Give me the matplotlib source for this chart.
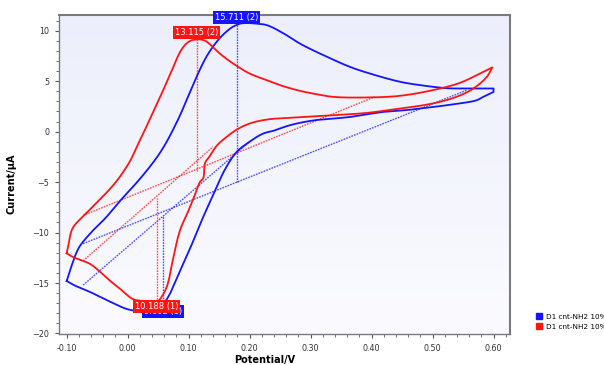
import numpy as np
import matplotlib
matplotlib.use("Agg")
import matplotlib.pyplot as plt
from matplotlib.ticker import MultipleLocator, FormatStrFormatter
from matplotlib.lines import Line2D
from matplotlib.colors import LinearSegmentedColormap

# ---------------- data ----------------
blue_E = [-0.100, -0.092, -0.080, -0.060, -0.037, -0.010, 0.017, 0.040, 0.053, 0.065,
          0.085, 0.100, 0.115, 0.130, 0.146, 0.160, 0.173, 0.185, 0.195, 0.210,
          0.228, 0.255, 0.283, 0.320, 0.365, 0.400, 0.447, 0.480, 0.523, 0.550, 0.600,
          0.600, 0.585, 0.572, 0.540, 0.501, 0.460, 0.419, 0.365, 0.304, 0.266, 0.240,
          0.222, 0.200, 0.179, 0.160, 0.143, 0.130, 0.118, 0.105, 0.091, 0.078, 0.069,
          0.058, 0.045, 0.023, 0.000, -0.020, -0.037, -0.065, -0.085, -0.100]
blue_I = [-14.8, -13.3, -11.5, -10.0, -8.6, -6.7, -4.9, -3.2, -2.1, -0.9,
          1.5, 3.6, 5.7, 7.5, 8.9, 9.8, 10.4, 10.7, 10.75, 10.7,
          10.55, 9.75, 8.7, 7.6, 6.4, 5.7, 4.93, 4.6, 4.3, 4.27, 4.27,
          3.93, 3.5, 3.1, 2.75, 2.44, 2.15, 1.95, 1.45, 1.1, 0.63, 0.1,
          -0.2, -1.0, -2.0, -3.7, -5.9, -7.6, -9.3, -11.2, -13.1, -14.9, -16.1,
          -17.1, -17.6, -17.8, -17.6, -17.1, -16.6, -15.8, -15.3, -14.8]

red_E = [-0.100, -0.097, -0.092, -0.086, -0.073, -0.055, -0.037, -0.018, -0.004, 0.005,
         0.012, 0.020, 0.028, 0.042, 0.056, 0.072, 0.088, 0.100, 0.113, 0.125,
         0.132, 0.146, 0.160, 0.179, 0.200, 0.228, 0.255, 0.283, 0.310, 0.337,
         0.392, 0.446, 0.500, 0.545, 0.578, 0.598,
         0.589, 0.567, 0.539, 0.500, 0.446, 0.392, 0.337, 0.283, 0.228, 0.200,
         0.179, 0.162, 0.146, 0.135, 0.127, 0.124, 0.1185, 0.110, 0.100, 0.0857,
         0.075, 0.064, 0.053, 0.0475, 0.030, 0.009, -0.010, -0.029, -0.045, -0.062,
         -0.089, -0.100]
red_I = [-12.05, -11.2, -9.8, -9.2, -8.4, -7.3, -6.2, -4.9, -3.7, -2.8,
         -1.9, -0.86, 0.13, 2.0, 3.8, 6.0, 8.1, 8.9, 9.14, 9.05,
         8.8, 8.0, 7.3, 6.5, 5.75, 5.1, 4.5, 4.03, 3.7, 3.44,
         3.38, 3.54, 4.1, 4.83, 5.76, 6.36,
         5.42, 4.27, 3.44, 2.78, 2.28, 1.85, 1.62, 1.42, 1.19, 0.8,
         0.2, -0.54, -1.4, -2.4, -3.1, -4.6, -5.0, -6.3, -7.8, -9.8,
         -12.45, -15.4, -16.6, -16.9, -16.8, -16.6, -15.7, -14.77, -13.9, -13.1,
         -12.45, -12.05]

# baselines: (E_start, I_start, E_end, I_end)
blue_base_anodic = [-0.073, -11.1, 0.556, 4.1]
blue_base_cathodic = [-0.073, -15.2, 0.200, -1.0]
red_base_anodic = [-0.073, -8.3, 0.405, 3.44]
red_base_cathodic = [-0.073, -12.8, 0.140, -1.5]

# peak markers: potential, current at curve, current at baseline, label
blue_peak_E = [0.179, 0.058]
blue_peak_top = [10.6, -17.7]
blue_peak_base = [-5.0, -8.4]
blue_peak_text = ["15.711 (2)", "9.602 (1)"]
red_peak_E = [0.113, 0.0475]
red_peak_top = [9.14, -16.9]
red_peak_base = [-3.9, -6.6]
red_peak_text = ["13.115 (2)", "10.188 (1)"]

series_names = ["D1 cnt-NH2 10%二", "D1 cnt-NH2 10%三"]

xticks = [-0.10, 0.00, 0.10, 0.20, 0.30, 0.40, 0.50, 0.60]
yticks = [-20, -15, -10, -5, 0, 5, 10]

BLUE = "#1414ff"
RED = "#ff1414"


def catmull(xs, ys, n=8, sx=610.0, sy=10.07):
    """Centripetal Catmull-Rom through the read points (drawing only)."""
    P = np.column_stack([np.asarray(xs) * sx, np.asarray(ys) * sy])
    out = [P[0]]
    for i in range(len(P) - 1):
        p0 = P[i - 1] if i > 0 else 2 * P[i] - P[i + 1]
        p1, p2 = P[i], P[i + 1]
        p3 = P[i + 2] if i + 2 < len(P) else 2 * P[i + 1] - P[i]
        def tj(ti, a, b):
            return ti + max(np.hypot(*(b - a)), 1e-6) ** 0.5
        t0 = 0.0
        t1 = tj(t0, p0, p1)
        t2 = tj(t1, p1, p2)
        t3 = tj(t2, p2, p3)
        for t in np.linspace(t1, t2, n + 1)[1:]:
            A1 = (t1 - t) / (t1 - t0) * p0 + (t - t0) / (t1 - t0) * p1
            A2 = (t2 - t) / (t2 - t1) * p1 + (t - t1) / (t2 - t1) * p2
            A3 = (t3 - t) / (t3 - t2) * p2 + (t - t2) / (t3 - t2) * p3
            B1 = (t2 - t) / (t2 - t0) * A1 + (t - t0) / (t2 - t0) * A2
            B2 = (t3 - t) / (t3 - t1) * A2 + (t - t1) / (t3 - t1) * A3
            out.append((t2 - t) / (t2 - t1) * B1 + (t - t1) / (t2 - t1) * B2)
    out = np.array(out)
    return out[:, 0] / sx, out[:, 1] / sy


def smooth_loop(xs, ys, corners):
    """Smooth each piece between sharp corners (switching potentials)."""
    idx = [0] + sorted(corners) + [len(xs) - 1]
    X, Y = [], []
    for a, b in zip(idx[:-1], idx[1:]):
        if b - a < 2:
            px, py = np.array(xs[a:b + 1]), np.array(ys[a:b + 1])
        else:
            px, py = catmull(xs[a:b + 1], ys[a:b + 1])
        X.extend(px)
        Y.extend(py)
    return X, Y


# ---------------- figure ----------------
fig = plt.figure(figsize=(6.04, 3.65), dpi=100)
ax = fig.add_axes([59 / 604, 31 / 365, 451 / 604, 319 / 365])

grad = np.linspace(0, 1, 256).reshape(-1, 1)
cmap = LinearSegmentedColormap.from_list("bg", ["#fbfbff", "#eceffb"])
ax.imshow(grad, extent=[0, 1, 0, 1], transform=ax.transAxes, cmap=cmap,
          aspect="auto", origin="lower", zorder=0)

b_turn = [i for i, e in enumerate(blue_E) if e == max(blue_E)]
r_turn = [int(np.argmax(red_E))]
bx, by = smooth_loop(blue_E, blue_I, b_turn)
rx, ry = smooth_loop(red_E, red_I, r_turn)
ax.plot(bx, by, color=BLUE, lw=1.3, zorder=3, solid_joinstyle="round")
ax.plot(rx, ry, color=RED, lw=1.3, zorder=3, solid_joinstyle="round")

dash_kw = dict(lw=1.0, ls=(0, (1.2, 0.8)), alpha=0.75, zorder=2)
for b in (blue_base_anodic, blue_base_cathodic):
    ax.plot([b[0], b[2]], [b[1], b[3]], color=BLUE, **dash_kw)
for b in (red_base_anodic, red_base_cathodic):
    ax.plot([b[0], b[2]], [b[1], b[3]], color=RED, **dash_kw)
for e, t, b in zip(blue_peak_E, blue_peak_top, blue_peak_base):
    ax.plot([e, e], [t, b], color=BLUE, **dash_kw)
for e, t, b in zip(red_peak_E, red_peak_top, red_peak_base):
    ax.plot([e, e], [t, b], color=RED, **dash_kw)

# peak labels
label_offsets_blue = [(0, 5), (0, -1)]
label_offsets_red = [(0, 5), (0, -3)]
for e, t, s, off in zip(blue_peak_E, blue_peak_top, blue_peak_text, label_offsets_blue):
    ax.annotate(s, (e, t), xytext=off, textcoords="offset points", ha="center",
                va="center", fontsize=6, color="white", zorder=5, annotation_clip=False,
                bbox=dict(boxstyle="square,pad=0.2", fc=BLUE, ec="none"))
for e, t, s, off in zip(red_peak_E, red_peak_top, red_peak_text, label_offsets_red):
    ax.annotate(s, (e, t), xytext=off, textcoords="offset points", ha="center",
                va="center", fontsize=6, color="white", zorder=6, annotation_clip=False,
                bbox=dict(boxstyle="square,pad=0.2", fc=RED, ec="none"))

ax.set_xlim(-0.1126, 0.627)
ax.set_ylim(-20.05, 11.55)
ax.set_xticks(xticks)
ax.set_yticks(yticks)
ax.xaxis.set_major_formatter(FormatStrFormatter("%.2f"))
ax.xaxis.set_minor_locator(MultipleLocator(0.02))
ax.yaxis.set_minor_locator(MultipleLocator(1))
ax.tick_params(which="major", length=3, width=0.8, labelsize=5.8, colors="#555555",
               labelcolor="#333333", pad=4)
ax.tick_params(which="minor", length=2, width=0.6, colors="#555555")

for side in ["left", "bottom", "right", "top"]:
    ax.spines[side].set_color("#7a7a7a")
    ax.spines[side].set_linewidth(1.0)
ax.spines["right"].set_linewidth(1.5)
ax.spines["top"].set_linewidth(1.5)

ax.set_xlabel("Potential/V", fontsize=7, fontweight="bold")
ax.xaxis.set_label_coords(0.455, -0.065)
ax.set_ylabel("Current/μA", fontsize=7, fontweight="bold")
ax.yaxis.set_label_coords(-0.095, 0.47)

handles = [Line2D([], [], marker="s", ls="none", color=BLUE, markersize=5),
           Line2D([], [], marker="s", ls="none", color=RED, markersize=5)]
fig.legend(handles, series_names, loc="upper left",
           bbox_to_anchor=(532 / 604, 1 - 310 / 365), frameon=False,
           handlelength=0.8, handletextpad=0.6, labelspacing=0.55,
           borderpad=0, prop={"family": ["DejaVu Sans", "Noto Sans CJK SC"], "size": 5.2})

fig.savefig("out.png", dpi=100)
